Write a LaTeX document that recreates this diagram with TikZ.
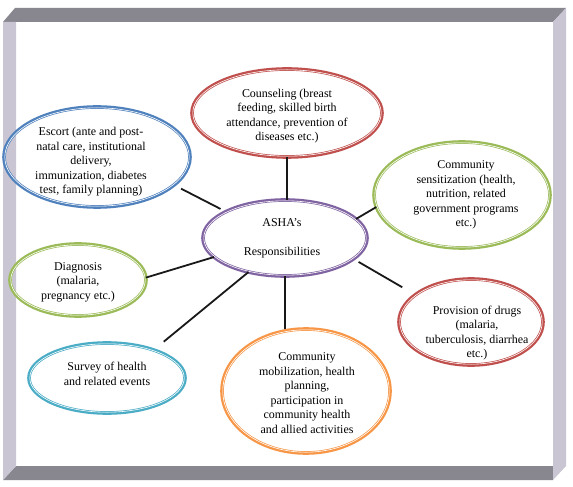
\documentclass[tikz,border=0pt]{standalone}
\usepackage{fontspec}
\setmainfont{Liberation Serif}
\usepackage{tikz}
\usetikzlibrary{shapes.geometric}
\definecolor{barDark}{HTML}{88868E}
\definecolor{barLight}{HTML}{C9C5D3}
\definecolor{ashRed}{HTML}{C0504D}
\definecolor{ashBlue}{HTML}{4F81BD}
\definecolor{ashGreen}{HTML}{9BBB59}
\definecolor{ashPurple}{HTML}{8064A2}
\definecolor{ashAqua}{HTML}{4BACC6}
\definecolor{ashOrange}{HTML}{F79646}

\begin{document}
\begin{tikzpicture}[x=1bp, y=-1bp,
    bubble/.style={ellipse, draw=#1, line width=3.6bp, inner sep=0pt, outer sep=0pt},
    bubtext/.style={align=center, inner sep=0pt, font={\fontsize{12}{14.5}\selectfont}},
    link/.style={line width=1.8bp, draw=black!90}]
  \fill[white] (0,0) rectangle (573,487);
  \useasboundingbox (0,0) rectangle (573,487);
  % bevelled frame
  \fill[barDark] (3,22) -- (15,8) -- (566,8) -- (553,22) -- cycle;
  \fill[barDark] (16,466) -- (553,466) -- (553,480) -- (3,480) -- cycle;
  \fill[barLight] (3,22) -- (16,22) -- (16,466) -- (3,480) -- cycle;
  \fill[barLight] (553,22) -- (566,8) -- (566,466) -- (553,480) -- cycle;
  % bubbles: name/x/y/colour/width/height/text dx/text dy/text
  \foreach \n/\px/\py/\col/\w/\h/\dx/\dy/\txt in {
      cnsl/287/113/ashRed/190bp/88bp/0/3/{Counseling (breast\\feeding, skilled birth\\attendance, prevention of\\diseases etc.)},
      esc/97/157/ashBlue/186bp/100bp/-6/5/{Escort (ante and post-\\natal care, institutional\\delivery,\\immunization, diabetes\\test, family planning)},
      sens/462/195/ashGreen/176bp/106bp/4/0/{Community\\sensitization (health,\\nutrition, related\\government programs\\etc.)},
      asha/285/238/ashPurple/164bp/76bp/-3/0/{ASHA’s\\[14.5bp]Responsibilities},
      diag/78/280/ashGreen/136bp/72bp/0/2/{Diagnosis\\(malaria,\\pregnancy etc.)},
      surv/107/378/ashAqua/156bp/70bp/0/-4/{Survey of health\\and related events},
      prov/471/322/ashRed/144bp/86bp/6/11/{Provision of drugs\\(malaria,\\tuberculosis, diarrhea\\etc.)},
      mob/306/391/ashOrange/168bp/124bp/1/2/{Community\\mobilization, health\\planning,\\participation in\\community health\\and allied activities}}{
    \node[bubble=\col, minimum width=\w, minimum height=\h] (\n) at (\px,\py) {};
    \draw[white, line width=.6bp] (\n.center) ellipse [x radius=\w/2-.8bp, y radius=\h/2-.8bp];
    \node[bubtext] (\n-txt) at (\px+\dx,\py+\dy) {\txt};
  }
  % spokes
  \draw[link] (cnsl.south) -- (cnsl.south |- asha.north);
  \draw[link] (asha.south) -- (asha.south |- mob.north);
  \draw[link, shorten <=8bp, shorten >=6bp] (esc.-20) -- (asha.156);
  \draw[link] (asha.15) -- (sens.188);
  \draw[link] (diag.2) -- (asha.195);
  \draw[link, shorten <=13bp] (surv.31) -- (asha.223);
  \draw[link, shorten <=6bp, shorten >=15bp] (asha.-17) -- (prov.154);
\end{tikzpicture}
\end{document}
